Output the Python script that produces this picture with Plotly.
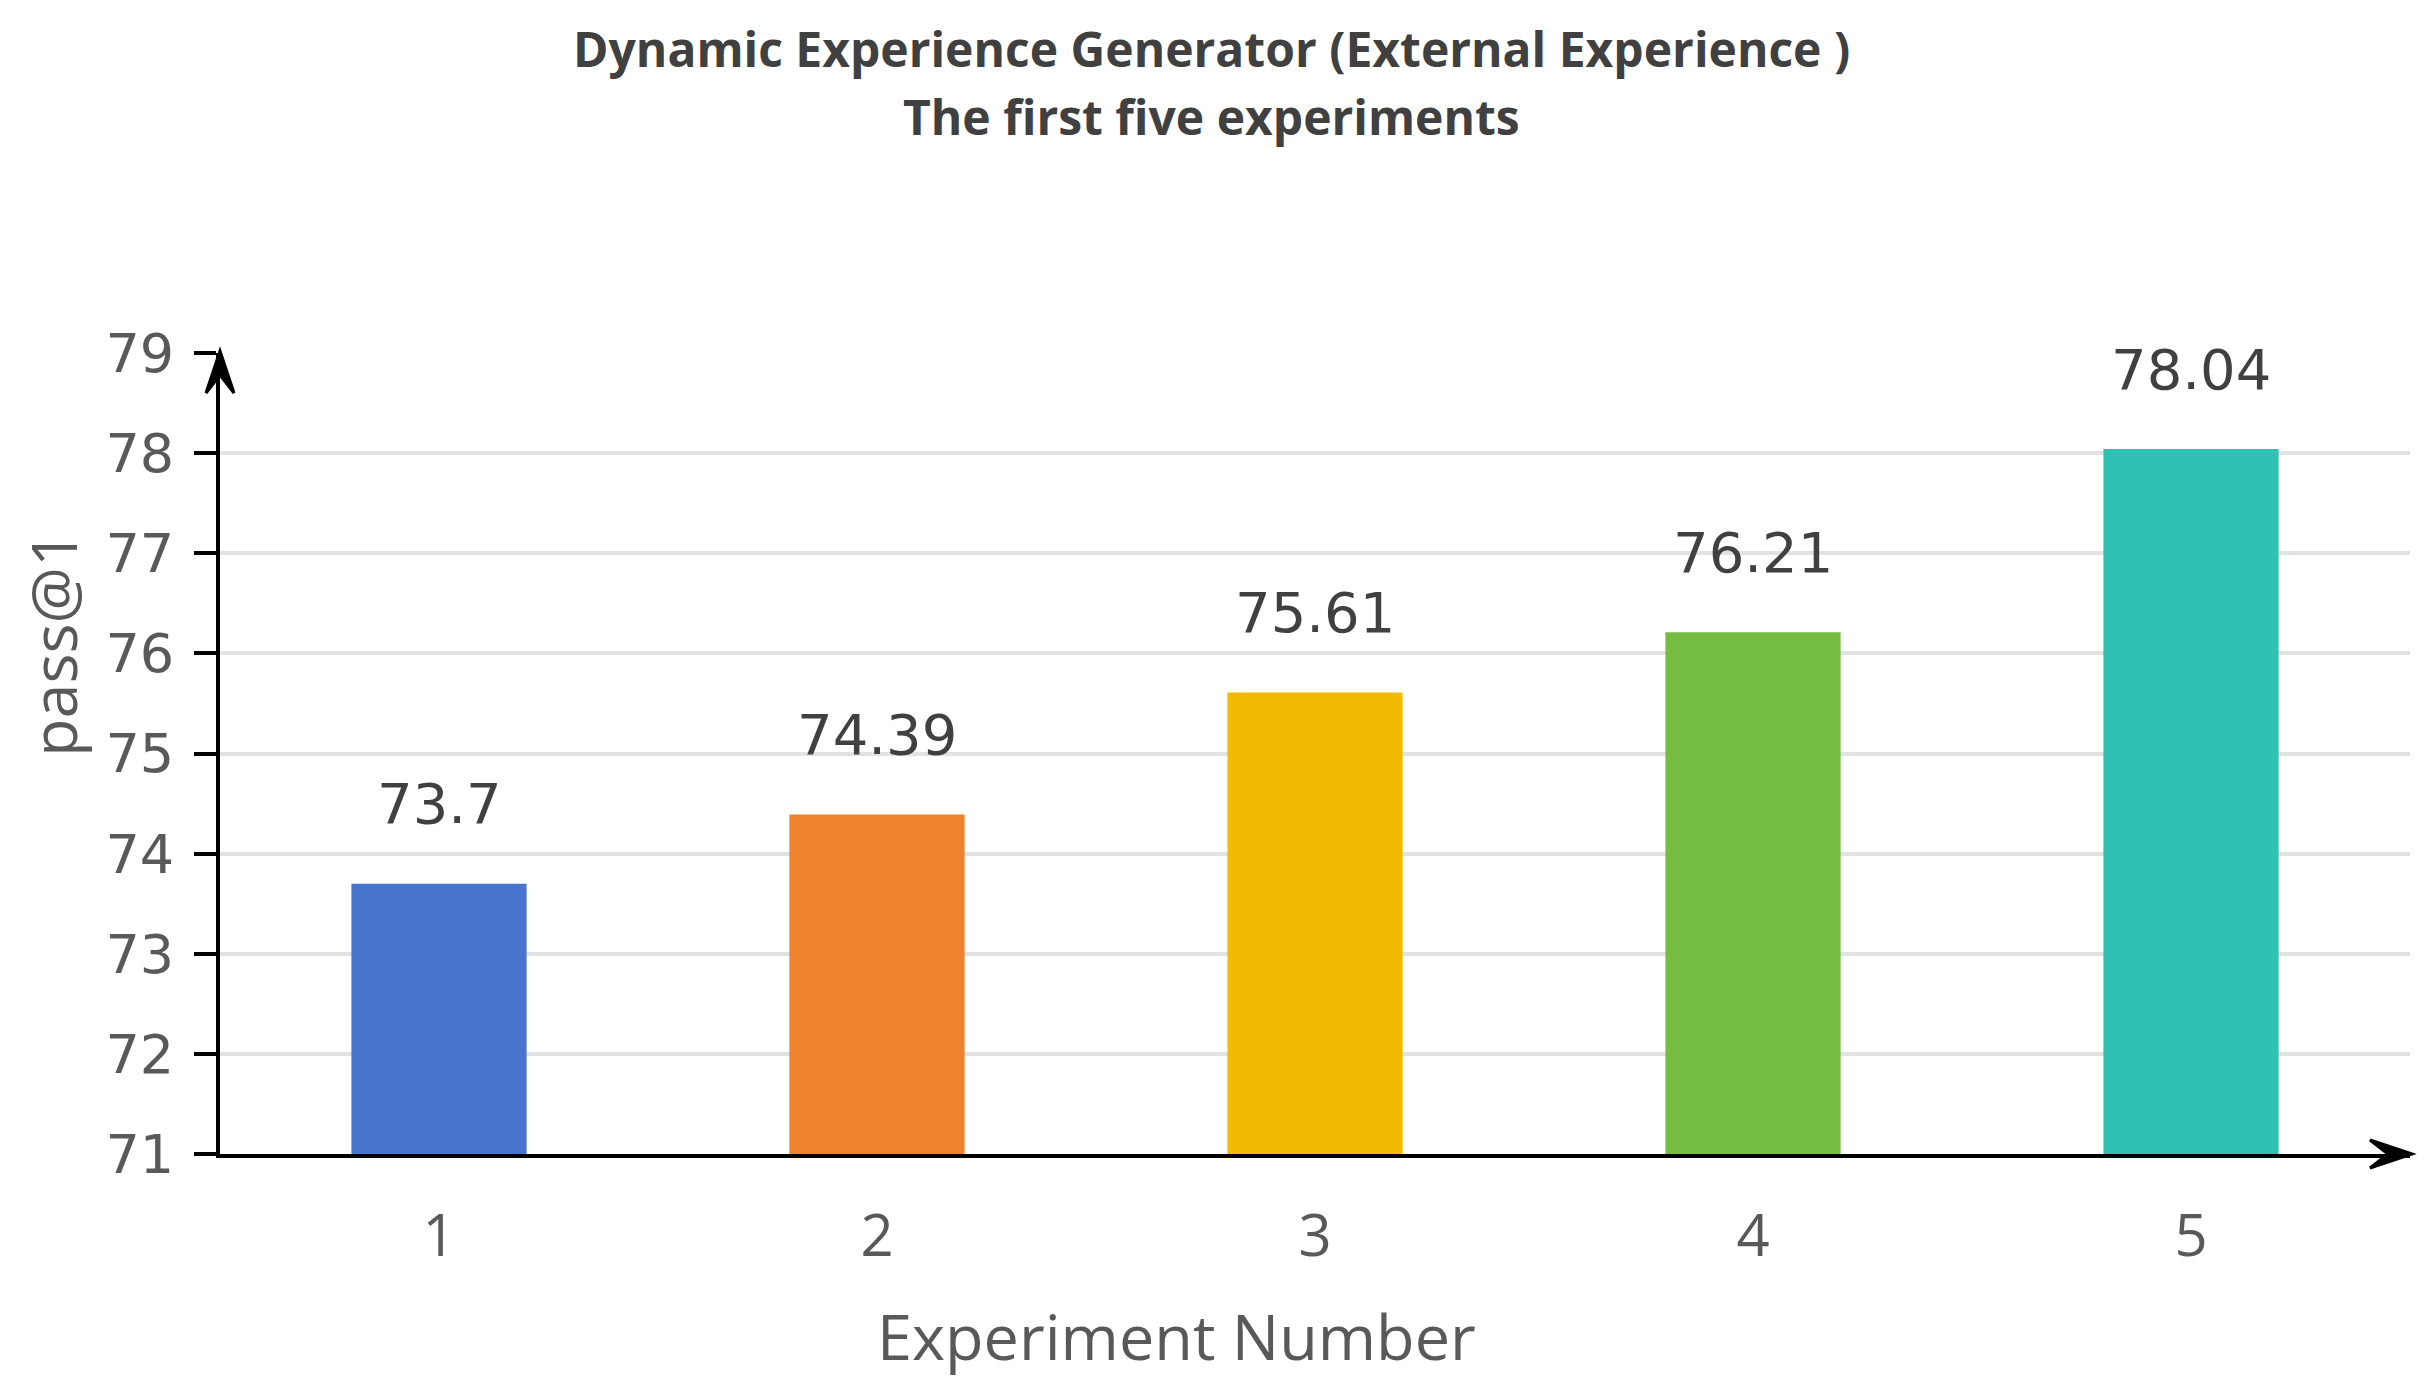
import plotly.graph_objects as go

experiments = ["1", "2", "3", "4", "5"]
pass_at_1 = [73.7, 74.39, 75.61, 76.21, 78.04]
value_labels = ["73.7", "74.39", "75.61", "76.21", "78.04"]
bar_colors = ["#4874CB", "#EE822F", "#F2BA02", "#75BD42", "#30C0B4"]
y_ticks = [71, 72, 73, 74, 75, 76, 77, 78, 79]

title_line1 = "Dynamic Experience Generator (External Experience )"
title_line2 = "The first five experiments"
x_title = "Experiment Number"
y_title = "pass@1"

W, H = 2426, 1386
L, R, T, B = 212, 24, 345, 240
plot_w = W - L - R
plot_h = H - T - B

def px_to_paper_x(px):
    return (px - L) / plot_w

def px_to_paper_y(py):
    return (H - B - py) / plot_h

fig = go.Figure()
fig.add_trace(go.Bar(
    x=list(range(1, 6)),
    y=pass_at_1,
    marker=dict(color=bar_colors, line=dict(width=0)),
    width=0.4,
    showlegend=False,
    hoverinfo="skip",
))

annotations = []
for i, (v, lab) in enumerate(zip(pass_at_1, value_labels)):
    annotations.append(dict(
        x=i + 1, y=v, xref="x", yref="y", text=lab, showarrow=False,
        yanchor="middle", xanchor="center", yshift=80,
        font=dict(family="DejaVu Sans", size=56, color="#404040"),
    ))

annotations += [
    dict(x=px_to_paper_x(1203), y=px_to_paper_y(41), xref="paper", yref="paper",
         text="<b>" + title_line1 + "</b>", showarrow=False, xanchor="center", yanchor="middle",
         font=dict(family="Open Sans", size=48, color="#404040")),
    dict(x=px_to_paper_x(1203), y=px_to_paper_y(109), xref="paper", yref="paper",
         text="<b>" + title_line2 + "</b>", showarrow=False, xanchor="center", yanchor="middle",
         font=dict(family="Open Sans", size=48, color="#404040")),
    dict(x=px_to_paper_x(1168), y=px_to_paper_y(1327), xref="paper", yref="paper",
         text=x_title, showarrow=False, xanchor="center", yanchor="middle",
         font=dict(family="Open Sans", size=63, color="#595959")),
    dict(x=px_to_paper_x(44), y=px_to_paper_y(636), xref="paper", yref="paper",
         text=y_title, showarrow=False, xanchor="center", yanchor="middle", textangle=-90,
         font=dict(family="Open Sans", size=63, color="#595959")),
]

shapes = [
    # x-axis arrowhead (at right end of the x axis)
    dict(type="path", xref="paper", yref="paper", xsizemode="pixel", ysizemode="pixel",
         xanchor=1, yanchor=0,
         path="M 2,0 L -40,14 L -22,0 L -40,-14 Z",
         fillcolor="black", line=dict(color="black", width=3), layer="above"),
    # y-axis arrowhead (at top end of the y axis)
    dict(type="path", xref="paper", yref="paper", xsizemode="pixel", ysizemode="pixel",
         xanchor=0, yanchor=1,
         path="M 0,2 L 14,-40 L 0,-22 L -14,-40 Z",
         fillcolor="black", line=dict(color="black", width=3), layer="above"),
]

fig.update_layout(
    width=W, height=H,
    margin=dict(l=L, r=R, t=T, b=B),
    plot_bgcolor="white", paper_bgcolor="white",
    annotations=annotations,
    shapes=shapes,
    xaxis=dict(
        range=[0.5, 5.5],
        tickvals=list(range(1, 6)), ticktext=experiments,
        showgrid=False, zeroline=False,
        showline=True, linecolor="black", linewidth=4,
        ticks="", ticklabelstandoff=28,
        tickfont=dict(family="Open Sans", size=58, color="#595959"),
    ),
    yaxis=dict(
        range=[71, 79],
        tickvals=y_ticks,
        showgrid=True, gridcolor="#E2E2E2", gridwidth=4,
        zeroline=False,
        showline=True, linecolor="black", linewidth=4,
        ticks="outside", ticklen=22, tickwidth=4, tickcolor="black",
        ticklabelstandoff=9,
        tickfont=dict(family="DejaVu Sans", size=54, color="#595959"),
    ),
)

fig.write_html("out.html")
